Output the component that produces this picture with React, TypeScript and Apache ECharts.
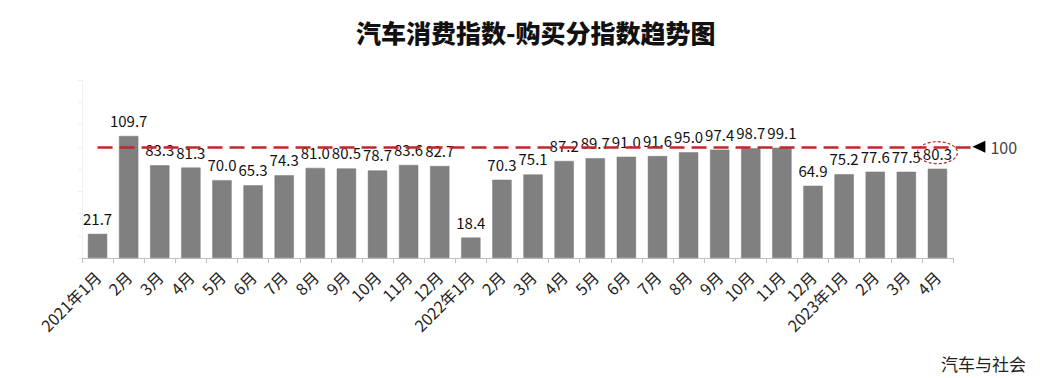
import React, { useEffect, useRef } from 'react';
import * as echarts from 'echarts';

const categories = [
  '2021年1月', '2月', '3月', '4月', '5月', '6月', '7月', '8月', '9月', '10月', '11月', '12月',
  '2022年1月', '2月', '3月', '4月', '5月', '6月', '7月', '8月', '9月', '10月', '11月', '12月',
  '2023年1月', '2月', '3月', '4月',
];
const purchaseIndex = [
  21.7, 109.7, 83.3, 81.3, 70.0, 65.3, 74.3, 81.0, 80.5, 78.7, 83.6, 82.7,
  18.4, 70.3, 75.1, 87.2, 89.7, 91.0, 91.6, 95.0, 97.4, 98.7, 99.1, 64.9,
  75.2, 77.6, 77.5, 80.3,
];
const referenceValue = 100;
const yMin = 0;
const yMax = 160;
const yInterval = 20;
const titleText = '汽车消费指数-购买分指数趋势图';
const sourceText = '汽车与社会';

export default function App() {
  const ref = useRef<HTMLDivElement>(null);

  useEffect(() => {
    document.body.style.margin = '0';
    const chart = echarts.init(ref.current!, null, { renderer: 'svg' });
    const font = '"Noto Sans CJK SC", "Noto Sans", sans-serif';
    const red = '#c0282d';

    chart.setOption({
      animation: false,
      backgroundColor: '#ffffff',
      textStyle: { fontFamily: font },
      title: {
        text: titleText,
        left: 351,
        top: 14,
        textStyle: { fontSize: 25, fontWeight: 900, color: '#111', fontFamily: font },
      },
      grid: { left: 82, right: 87, top: 80, bottom: 120 },
      xAxis: {
        type: 'category',
        data: categories,
        axisLine: { lineStyle: { color: '#bfbfbf', width: 1 } },
        axisTick: { show: true, length: 5, alignWithLabel: false, lineStyle: { color: '#bfbfbf' } },
        axisLabel: { interval: 0, rotate: 45, fontSize: 16, color: '#222', margin: 16, fontFamily: font },
      },
      yAxis: {
        type: 'value',
        min: yMin,
        max: yMax,
        interval: yInterval,
        axisLine: { show: true, lineStyle: { color: '#f0f0f0' } },
        axisTick: { show: true, length: 4, lineStyle: { color: '#f0f0f0' } },
        axisLabel: { show: false },
        splitLine: { show: false },
      },
      series: [
        {
          type: 'bar',
          data: purchaseIndex,
          barWidth: '62%',
          itemStyle: { color: '#808080', borderColor: '#777', borderWidth: 0.5 },
          label: {
            show: true,
            position: 'top',
            distance: 8,
            fontSize: 15,
            color: '#111',
            fontFamily: font,
            formatter: (p: any) => Number(p.value).toFixed(1),
          },
          markLine: {
            silent: true,
            symbol: 'none',
            label: { show: false },
            lineStyle: { color: red, width: 2.5, type: [15, 7] },
            data: [[{ xAxis: 0, yAxis: referenceValue }, { x: '93.5%', yAxis: referenceValue }]],
          },
        },
      ],
    });

    const lastIdx = purchaseIndex.length - 1;
    const lastPt = chart.convertToPixel({ seriesIndex: 0 }, [lastIdx, purchaseIndex[lastIdx]]) as number[];
    const refY = chart.convertToPixel({ yAxisIndex: 0 }, referenceValue) as number;
    const lineEnd = 1040 * 0.935;

    chart.setOption({
      graphic: [
        {
          type: 'ellipse',
          shape: { cx: lastPt[0], cy: lastPt[1] - 16, rx: 20, ry: 11 },
          style: { fill: 'none', stroke: red, lineWidth: 1.2, lineDash: [3, 2] },
          silent: true,
        },
        {
          type: 'polygon',
          shape: { points: [[lineEnd, refY], [lineEnd + 13, refY - 6], [lineEnd + 13, refY + 6]] },
          style: { fill: '#000' },
          silent: true,
        },
        {
          type: 'text',
          x: lineEnd + 18,
          y: refY,
          style: { text: String(referenceValue), fontSize: 16, fill: '#444', verticalAlign: 'middle', fontFamily: font },
        },
        {
          type: 'text',
          right: 14,
          bottom: 6,
          style: { text: sourceText, fontSize: 17, fill: '#222', fontFamily: font },
        },
      ],
    });

    return () => chart.dispose();
  }, []);

  return <div ref={ref} style={{ width: 1040, height: 378 }} />;
}
